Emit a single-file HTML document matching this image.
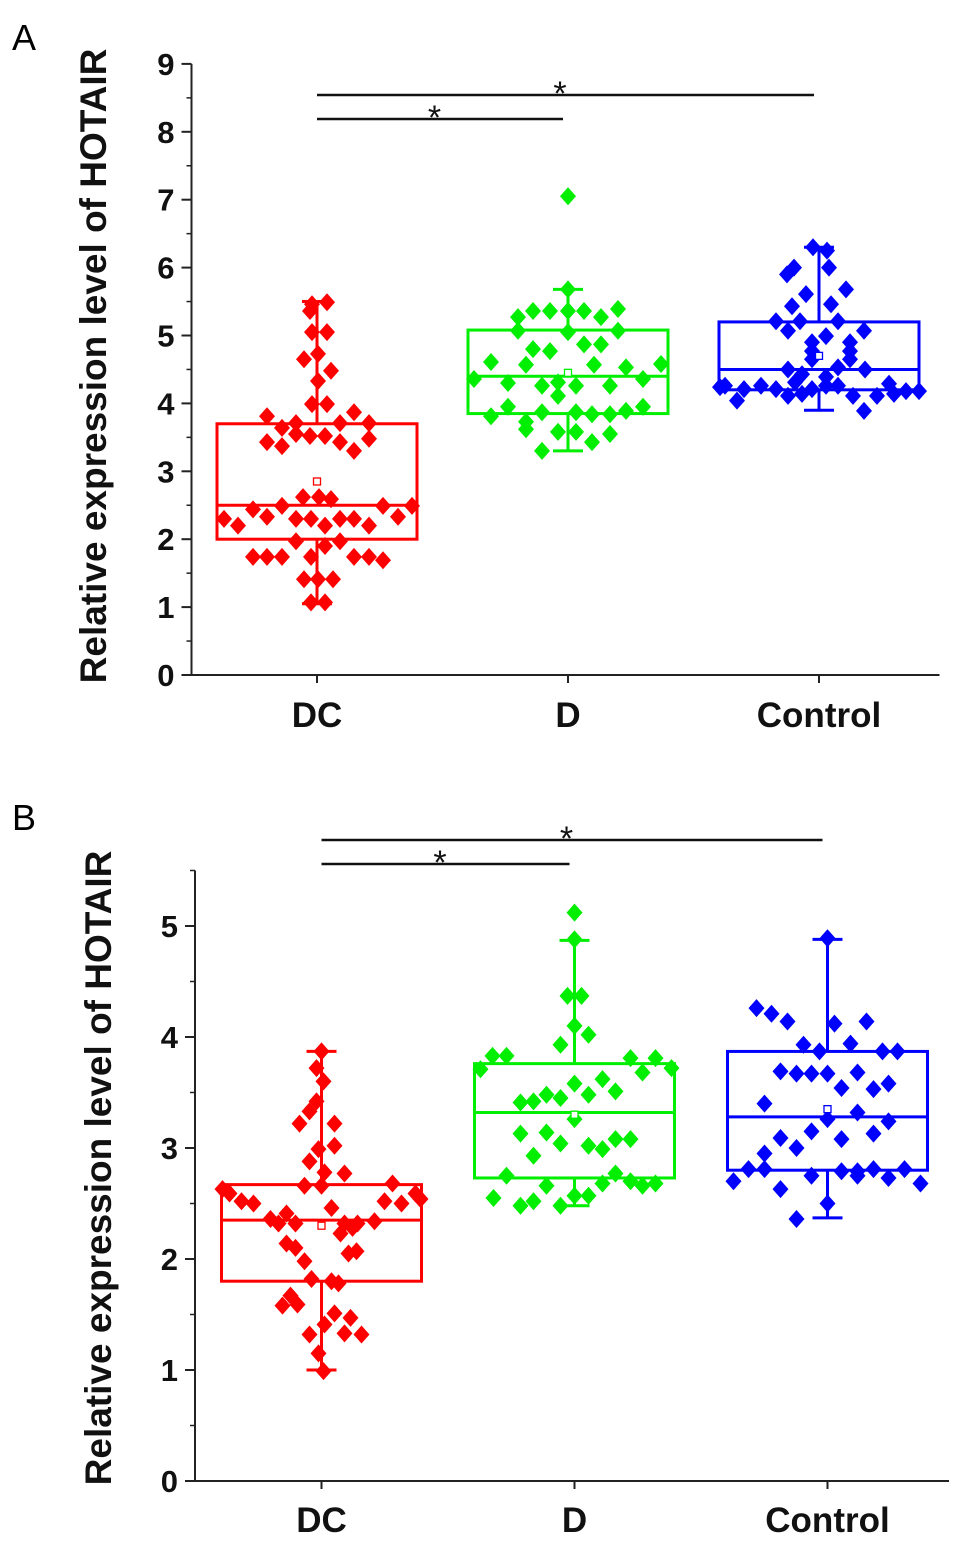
<!DOCTYPE html>
<html><head><meta charset="utf-8"><style>
html,body{margin:0;padding:0;background:#fff;}
svg{display:block;font-family:"Liberation Sans",Arial,sans-serif;font-weight:bold;}
</style></head><body>
<svg id="chart" width="969" height="1545" viewBox="0 0 969 1545">
<text x="12" y="50" font-size="36" font-weight="normal">A</text>
<text x="12" y="830" font-size="36" font-weight="normal">B</text>
</svg>
<script>
const categories = ["DC","D","Control"];
const colors = ["#ff0000","#00ee00","#0000ff"];
// Panel A
const aTicks = [0,1,2,3,4,5,6,7,8,9];
const aBoxes = [ // [whiskerLow, q1, median, q3, whiskerHigh, mean]
 [1.05,2.0,2.5,3.7,5.5,2.85],
 [3.3,3.85,4.4,5.08,5.68,4.45],
 [3.9,4.2,4.5,5.2,6.3,4.7]];
const aDC = [[-0.05,5.46],[0.10,5.49],[-0.07,5.36],[-0.05,5.05],[0.10,5.05],[-0.13,4.65],[0.01,4.73],[0.14,4.48],[0.01,4.33],[-0.05,3.99],[0.10,3.99],[-0.50,3.81],[0.37,3.87],[0.52,3.71],[-0.21,3.71],[-0.35,3.64],[0.23,3.71],[-0.07,3.52],[0.08,3.52],[0.23,3.43],[0.52,3.48],[-0.50,3.43],[-0.35,3.37],[0.37,3.30],[-0.21,3.55],[-0.14,2.62],[0.02,2.62],[0.14,2.59],[-0.35,2.49],[-0.64,2.44],[0.66,2.49],[0.95,2.49],[-0.93,2.30],[-0.50,2.33],[-0.21,2.30],[-0.06,2.30],[0.23,2.30],[0.37,2.30],[0.81,2.33],[-0.79,2.2],[0.08,2.2],[0.52,2.2],[-0.21,1.97],[0.08,1.90],[0.23,1.97],[-0.64,1.74],[-0.50,1.74],[-0.35,1.74],[0.37,1.74],[0.52,1.74],[0.66,1.69],[-0.06,1.74],[-0.13,1.41],[0.01,1.41],[0.16,1.41],[-0.06,1.07],[0.08,1.07]];
const aD = [[0,5.68],[-0.35,5.36],[-0.18,5.36],[0,5.36],[0.16,5.36],[0.50,5.39],[-0.50,5.27],[0.33,5.27],[-0.50,5.07],[0,5.05],[0.50,5.07],[-0.35,4.80],[-0.18,4.77],[0.16,4.87],[0.33,4.87],[-0.77,4.61],[-0.42,4.57],[0.26,4.57],[0.58,4.53],[0.93,4.58],[-0.94,4.36],[-0.6,4.30],[-0.26,4.26],[-0.10,4.31],[0.08,4.26],[0.42,4.26],[0.75,4.36],[-0.10,4.11],[-0.6,3.95],[-0.26,3.87],[0.08,3.87],[0.24,3.84],[0.42,3.84],[0.58,3.89],[0.75,3.95],[-0.77,3.81],[-0.42,3.73],[-0.42,3.62],[-0.10,3.58],[0.08,3.58],[0.24,3.43],[0.42,3.55],[-0.26,3.30],[0,7.05]];
const aControl = [[-0.06,6.30],[0.08,6.25],[-0.25,6.0],[0.10,6.0],[-0.32,5.9],[-0.13,5.61],[0.27,5.68],[-0.27,5.43],[0.12,5.46],[-0.43,5.21],[-0.19,5.21],[0.19,5.21],[-0.31,5.07],[0.45,5.07],[0.07,4.99],[-0.07,4.90],[0.31,4.90],[-0.07,4.77],[0.31,4.77],[-0.07,4.65],[0.31,4.65],[-0.31,4.5],[-0.17,4.43],[0.19,4.53],[0.46,4.5],[0.07,4.39],[-0.94,4.26],[-0.75,4.21],[-0.58,4.26],[-0.43,4.21],[-0.24,4.31],[-0.07,4.21],[0.07,4.26],[0.19,4.26],[0.70,4.29],[0.87,4.18],[1.0,4.18],[-0.99,4.24],[-0.31,4.11],[-0.17,4.14],[0.34,4.11],[0.58,4.11],[0.75,4.14],[-0.82,4.04],[0.45,3.89]];
// Panel B
const bTicks = [0,1,2,3,4,5];
const bBoxes = [
 [1.0,1.8,2.35,2.67,3.87,2.3],
 [2.48,2.73,3.32,3.76,4.87,3.3],
 [2.37,2.8,3.28,3.87,4.88,3.35]];
const bDC = [[0,3.87],[-0.05,3.72],[0.02,3.6],[-0.05,3.42],[-0.12,3.33],[-0.22,3.22],[0.13,3.22],[-0.03,2.99],[0.13,3.02],[-0.12,2.88],[0.03,2.78],[0.23,2.77],[-0.17,2.66],[0,2.66],[0.71,2.68],[-0.99,2.63],[-0.92,2.59],[-0.8,2.52],[-0.68,2.5],[0.63,2.52],[0.8,2.5],[0.94,2.59],[0.99,2.54],[0.1,2.46],[-0.51,2.36],[-0.35,2.41],[-0.26,2.32],[-0.43,2.32],[0.23,2.32],[0.36,2.32],[0.53,2.34],[0.19,2.23],[0.31,2.28],[-0.35,2.14],[-0.26,2.1],[0.27,2.05],[0.35,2.07],[-0.17,1.98],[0.1,1.8],[-0.1,1.82],[0.17,1.78],[-0.31,1.67],[-0.24,1.59],[-0.39,1.58],[0.13,1.51],[0.29,1.47],[-0.12,1.32],[0.03,1.41],[0.23,1.33],[0.4,1.32],[-0.03,1.15],[0.02,0.99]];
const bD = [[0,5.12],[0,4.88],[-0.07,4.37],[0.07,4.37],[0,4.1],[0.14,4.02],[-0.14,3.93],[-0.82,3.83],[-0.68,3.83],[-0.94,3.71],[0.56,3.81],[0.81,3.81],[0.68,3.68],[0.97,3.72],[0,3.58],[0.28,3.62],[0.41,3.51],[0.14,3.48],[-0.14,3.45],[-0.28,3.48],[-0.41,3.42],[-0.54,3.41],[0,3.26],[-0.54,3.13],[-0.28,3.14],[-0.14,3.04],[0.14,3.02],[0.28,2.99],[0.41,3.08],[0.56,3.08],[-0.41,2.93],[-0.68,2.75],[0.41,2.77],[0.28,2.68],[0.56,2.7],[0.68,2.66],[0.81,2.68],[-0.28,2.66],[0,2.57],[-0.81,2.55],[-0.41,2.52],[-0.54,2.48],[-0.14,2.48],[0.14,2.57]];
const bControl = [[0,4.89],[-0.71,4.26],[-0.56,4.21],[-0.4,4.14],[0.07,4.12],[0.39,4.14],[-0.24,3.93],[-0.08,3.87],[0.23,3.94],[0.55,3.87],[0.7,3.87],[-0.47,3.69],[-0.31,3.67],[-0.16,3.67],[0,3.67],[0.3,3.68],[0.14,3.54],[0.46,3.53],[0.61,3.58],[-0.63,3.4],[0.3,3.32],[0,3.26],[0.61,3.24],[-0.16,3.15],[-0.47,3.09],[0.46,3.13],[0.14,3.08],[-0.31,3.0],[-0.63,2.95],[-0.79,2.81],[-0.63,2.81],[0.14,2.79],[0.3,2.79],[0.46,2.81],[0.77,2.81],[-0.16,2.75],[0.3,2.75],[0.61,2.73],[-0.94,2.7],[0.93,2.68],[-0.47,2.63],[0,2.5],[-0.31,2.36]];

const NS="http://www.w3.org/2000/svg";
const svg=document.getElementById('chart');
function mk(tag,attrs,parent){const e=document.createElementNS(NS,tag);for(const k in attrs)e.setAttribute(k,attrs[k]);(parent||svg).appendChild(e);return e;}

function panel(cfg){
  const g=mk('g',{});
  
  
  const y=v=>cfg.y0-v*cfg.unit;
  const x=i=>cfg.x0+(i+0.5)*cfg.band;
  const xEnd=cfg.x0+cfg.band*3-5;
  const ya=mk('line',{x1:cfg.x0,y1:y(cfg.axisMax),x2:cfg.x0,y2:cfg.y0,stroke:'#222','stroke-width':2},g);
  
  const xa=mk('line',{x1:cfg.x0-9,y1:cfg.y0,x2:xEnd,y2:cfg.y0,stroke:'#222','stroke-width':2},g);
  
  cfg.ticks.forEach(t=>{
    mk('line',{x1:cfg.x0-10,y1:y(t),x2:cfg.x0,y2:y(t),stroke:'#222','stroke-width':2},g);
    if(t+0.5<=cfg.axisMax) mk('line',{x1:cfg.x0-5,y1:y(t+0.5),x2:cfg.x0,y2:y(t+0.5),stroke:'#222','stroke-width':1.5},g);
    const tl=mk('text',{x:cfg.x0-17,y:y(t)+11,'font-size':31,'text-anchor':'end',fill:'#111'},g);
    tl.textContent=t;
    
  });
  const yt=mk('text',{transform:`translate(${cfg.titleX},${cfg.titleY}) rotate(-90)`,'font-size':37,'text-anchor':'middle',fill:'#111'},g);
  yt.textContent='Relative expression level of HOTAIR';
  
  categories.forEach((c,i)=>{
    mk('line',{x1:x(i),y1:cfg.y0,x2:x(i),y2:cfg.y0+8,stroke:'#222','stroke-width':2},g);
    const cl=mk('text',{x:x(i),y:cfg.labelY,'font-size':35,'text-anchor':'middle',fill:'#111'},g);
    cl.textContent=c;
    
    const b=cfg.boxes[i], col=colors[i], cx=x(i), hw=100;
    const bg=mk('g',{},g);
    
    mk('line',{x1:cx,y1:y(b[4]),x2:cx,y2:y(b[3]),stroke:col,'stroke-width':3},bg);
    mk('line',{x1:cx,y1:y(b[1]),x2:cx,y2:y(b[0]),stroke:col,'stroke-width':3},bg);
    mk('line',{x1:cx-15,y1:y(b[4]),x2:cx+15,y2:y(b[4]),stroke:col,'stroke-width':3},bg);
    mk('line',{x1:cx-15,y1:y(b[0]),x2:cx+15,y2:y(b[0]),stroke:col,'stroke-width':3},bg);
    mk('rect',{x:cx-hw,y:y(b[3]),width:2*hw,height:y(b[1])-y(b[3]),fill:'none',stroke:col,'stroke-width':3},bg);
    mk('line',{x1:cx-hw,y1:y(b[2]),x2:cx+hw,y2:y(b[2]),stroke:col,'stroke-width':3},bg);
    cfg.pts[i].forEach(p=>{
      const px=cx+p[0]*hw, py=y(p[1]);
      const d=mk('polygon',{points:`${px},${py-9} ${px+8},${py} ${px},${py+9} ${px-8},${py}`,fill:col},bg);
      
    });
    const m=mk('rect',{x:cx-3.5,y:y(b[5])-3.5,width:7,height:7,fill:'#fff',stroke:col,'stroke-width':1.3},bg);
    
  });
  cfg.sig.forEach(s=>{
    const l=mk('line',{x1:x(s[0]),y1:s[2],x2:x(s[1])-5,y2:s[2],stroke:'#111','stroke-width':2.5},g);
    
    const st=mk('text',{x:(x(s[0])+x(s[1]))/2-8,y:s[2]+10,'font-size':34,'font-weight':'normal','text-anchor':'middle',fill:'#111'},g);
    st.textContent='*';
    
  });
}
panel({name:'panel-a',x0:191.5,band:251,y0:675,unit:67.9,axisMax:9,ticks:aTicks,boxes:aBoxes,pts:[aDC,aD,aControl],
  titleX:106,titleY:366,labelY:727,sig:[[0,2,95],[0,1,119]]});
panel({name:'panel-b',x0:195,band:253,y0:1481,unit:111,axisMax:5.5,ticks:bTicks,boxes:bBoxes,pts:[bDC,bD,bControl],
  titleX:111,titleY:1168,labelY:1532,sig:[[0,2,840],[0,1,864]]});
</script>
</body></html>
